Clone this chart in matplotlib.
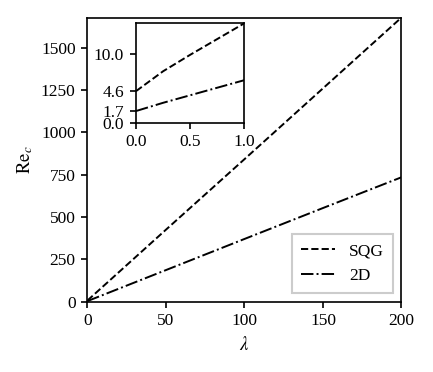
import matplotlib
matplotlib.use("Agg")
import matplotlib.pyplot as plt
import numpy as np

lam = [0, 0.25, 0.5, 0.75, 1, 50, 100, 150, 200]
re_sqg = [4.6, 7.5, 9.9, 12.2, 14.5, 425, 842, 1261, 1680]
re_2d = [1.7, 2.9, 4.0, 5.1, 6.2, 186, 370, 553, 735]

inset_xticks = [0.0, 0.5, 1.0]
inset_yticks = [0.0, 1.7, 4.6, 10.0]

plt.rcParams['font.family'] = ['Liberation Serif', 'DejaVu Serif']
plt.rcParams['mathtext.fontset'] = 'stix'
plt.rcParams['font.size'] = 12.5

fig = plt.figure(figsize=(4.33, 3.72), dpi=100)
ax = fig.add_axes([0.202, 0.1895, 0.7252, 0.7634])
ax.plot(lam, re_sqg, color='black', ls='--', lw=1.4, label='SQG')
ax.plot(lam, re_2d, color='black', ls='-.', lw=1.4, label='2D')
ax.set_xlim(0, 200)
ax.set_ylim(0, 1680)
ax.set_xticks([0, 50, 100, 150, 200])
ax.set_yticks([0, 250, 500, 750, 1000, 1250, 1500])
ax.set_xlabel(r'$\lambda$', fontsize=13.5, labelpad=5)
ax.set_ylabel(r'$\mathrm{Re}_c$', fontsize=13.5)
for s in ax.spines.values():
    s.set_linewidth(1.2)
ax.tick_params(width=1.2, length=4, pad=4.5)
leg = ax.legend(loc='lower right', fancybox=False, framealpha=1,
                edgecolor='#cccccc', borderpad=0.5, handlelength=2.0)
leg.get_frame().set_linewidth(1.5)

ins = fig.add_axes([0.3141, 0.6702, 0.2501, 0.2672])
ins.plot(lam, re_sqg, color='black', ls='--', lw=1.4)
ins.plot(lam, re_2d, color='black', ls='-.', lw=1.4)
ins.set_xlim(0, 1)
ins.set_ylim(0, 14.5)
ins.set_xticks(inset_xticks)
ins.set_yticks(inset_yticks)
ins.set_xticklabels([f'{v:.1f}' for v in inset_xticks])
ins.set_yticklabels([f'{v:.1f}' for v in inset_yticks])
for s in ins.spines.values():
    s.set_linewidth(1.2)
ins.tick_params(width=1.2, length=4, pad=4.5)

fig.savefig('out.png', dpi=100)
